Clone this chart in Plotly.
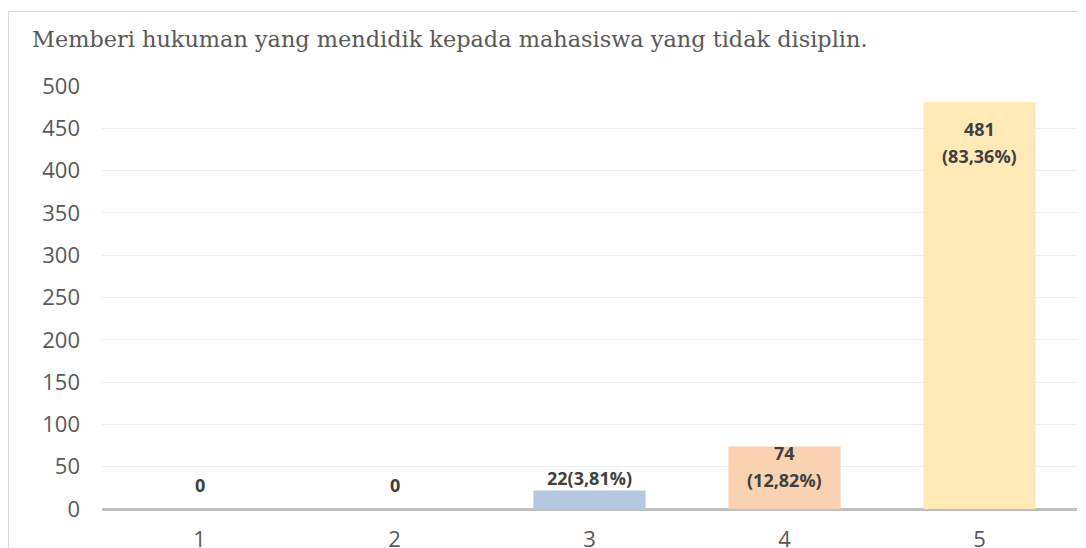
import plotly.graph_objects as go

categories = ["1", "2", "3", "4", "5"]
counts = [0, 0, 22, 74, 481]
label_lines = [["0"], ["0"], ["22(3,81%)"], ["74", "(12,82%)"], ["481", "(83,36%)"]]
bar_colors = ["#B4C8E2", "#B4C8E2", "#B4C8E2", "#F9D3B1", "#FFEAB7"]
y_ticks = [0, 50, 100, 150, 200, 250, 300, 350, 400, 450, 500]
title_text = "Memberi hukuman yang mendidik kepada mahasiswa yang tidak disiplin."

# figure size fits the viewport inside the page's default 8px body margin
W, H = 1078, 540
ML, MR, MT, MB = 94, 9, 78, 39

fig = go.Figure()
fig.add_trace(go.Bar(
    x=categories, y=counts,
    marker=dict(color=bar_colors, line=dict(width=0)),
    hoverinfo="skip",
))

# label placement: center offset (px) of the block relative to bar top, line spacing
center_offsets = [24, 24, 12, -20, -40]
line_gap = 27
annotations = []
for idx, (val, lines, off) in enumerate(zip(counts, label_lines, center_offsets)):
    n = len(lines)
    for i, ln in enumerate(lines):
        shift = off + ((n - 1) / 2 - i) * line_gap
        annotations.append(dict(
            x=idx, y=val, xref="x", yref="y", text="<b>%s</b>" % ln,
            showarrow=False, yanchor="middle", xanchor="center", yshift=shift,
            font=dict(family="Open Sans", size=18, color="#404040"),
        ))

pw = W - ML - MR
ph = H - MT - MB
fig.update_layout(
    width=W, height=H,
    margin=dict(l=ML, r=MR, t=MT, b=MB, pad=0),
    paper_bgcolor="white", plot_bgcolor="white",
    bargap=0.425,
    showlegend=False,
    title=dict(text=title_text, x=24 / W, xanchor="left", xref="container",
               y=1 - 31 / H, yanchor="middle", yref="container",
               pad=dict(l=0, r=0, t=0, b=0),
               font=dict(family="DejaVu Serif", size=22.4, color="#595959")),
    xaxis=dict(
        type="category", range=[-0.5, 4.5], automargin=False,
        showgrid=False, zeroline=False, showline=False,
        ticks="", tickfont=dict(family="Open Sans", size=22, color="#595959"),
        ticklabelstandoff=15,
    ),
    yaxis=dict(
        range=[0, 500], tickvals=y_ticks, automargin=False,
        showgrid=True, gridcolor="#EFEFEF",
        gridwidth=1, zeroline=True, zerolinecolor="#BFBFBF", zerolinewidth=2.5,
        showline=False, ticks="",
        tickfont=dict(family="Open Sans", size=22, color="#595959"),
        ticklabelstandoff=21,
    ),
    annotations=annotations,
    shapes=[dict(type="rect", xref="paper", yref="paper",
                 x0=(0.5 - ML) / pw, x1=(W + 5 - ML) / pw,
                 y0=-(MB + 5) / ph, y1=(H - MB - 3.5) / ph,
                 line=dict(color="#D9D9D9", width=1), layer="below")],
)

fig.write_html("out.html")
